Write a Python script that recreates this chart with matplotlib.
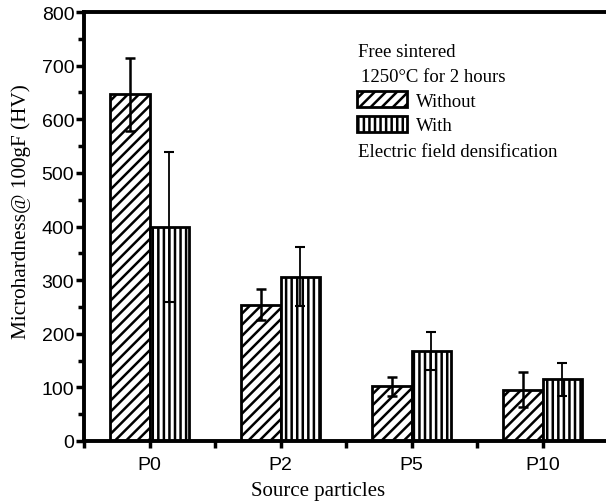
import numpy as np
import matplotlib
matplotlib.use('Agg')
import matplotlib.pyplot as plt
from matplotlib.patches import Patch

categories = ['P0', 'P2', 'P5', 'P10']
without_vals = [647, 254, 102, 96]
without_err = [68, 29, 18, 33]
with_vals = [399, 306, 168, 115]
with_err = [139, 55, 36, 31]

plt.rcParams['hatch.linewidth'] = 1.8
serif = ['Liberation Serif', 'DejaVu Serif']
sans = ['Liberation Sans', 'DejaVu Sans']

fig = plt.figure(figsize=(6.06, 5.02), dpi=100)
ax = fig.add_axes([84 / 606, 1 - 442 / 502, 524 / 606, 429 / 502])

x = np.arange(len(categories))
w = 0.3
ax.bar(x - w / 2, without_vals, w, color='white', edgecolor='black', hatch='///', linewidth=2, zorder=2)
ax.bar(x + w / 2, with_vals, w, color='white', edgecolor='black', hatch='|||', linewidth=2, zorder=2)
ax.errorbar(x - w / 2, without_vals, yerr=without_err, fmt='none', ecolor='black',
            elinewidth=1.8, capsize=3.6, capthick=1.8, zorder=3)
ax.errorbar(x + w / 2, with_vals, yerr=with_err, fmt='none', ecolor='black',
            elinewidth=1.3, capsize=3.6, capthick=1.5, zorder=3)

ax.set_xlim(-0.5, 3.5)
ax.set_ylim(0, 800)
ax.set_xticks(x)
ax.set_xticklabels(categories)
ax.set_xticks(np.arange(-0.5, 4, 1), minor=True)
ax.set_yticks(np.arange(0, 801, 100))
ax.set_yticks(np.arange(50, 800, 100), minor=True)
for lab in ax.get_xticklabels() + ax.get_yticklabels():
    lab.set_family(sans)
    lab.set_fontsize(14)
ax.tick_params(which='both', direction='out', width=2.5)
ax.tick_params(axis='y', which='major', length=6, pad=1)
ax.tick_params(axis='y', which='minor', length=4)
ax.tick_params(axis='x', which='both', length=5, pad=6)
for s in ax.spines.values():
    s.set_linewidth(2.8)

# labels are off-centre in the original
ax.set_xlabel('Source particles', family=serif, fontsize=15)
ax.xaxis.set_label_coords(0.447, -0.093)
ax.set_ylabel('Microhardness@ 100gF (HV)', family=serif, fontsize=15.3)
ax.yaxis.set_label_coords(-0.101, 0.537)

fig.text(358 / 606, 1 - 57 / 502, 'Free sintered', family=serif, fontsize=13.5, va='baseline')
fig.text(361 / 606, 1 - 82 / 502, '1250°C for 2 hours', family=serif, fontsize=13.5, va='baseline')
fig.text(358 / 606, 1 - 157 / 502, 'Electric field densification', family=serif, fontsize=13.5, va='baseline')

handles = [Patch(facecolor='white', edgecolor='black', hatch='///', linewidth=2, label='Without'),
           Patch(facecolor='white', edgecolor='black', hatch='|||', linewidth=2, label='With')]
fig.legend(handles=handles, loc='upper left', bbox_to_anchor=(357 / 606, 1 - 92 / 502),
           frameon=False, prop={'family': serif, 'size': 13.5}, borderpad=0, borderaxespad=0,
           handlelength=2.67, handleheight=0.96, handletextpad=0.45, labelspacing=0.33)

fig.savefig('out.png', dpi=100)
